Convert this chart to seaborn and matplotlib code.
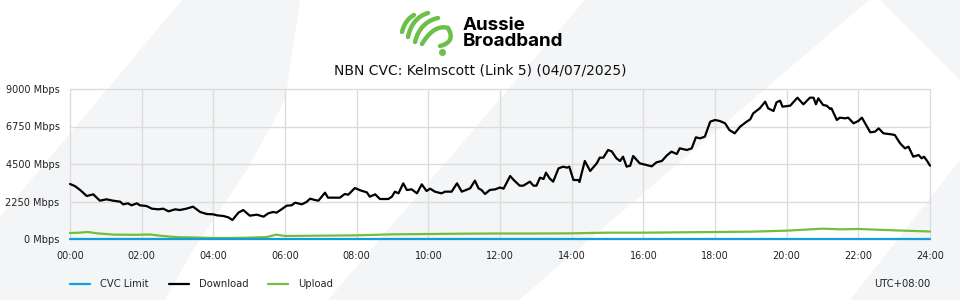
import numpy as np
import pandas as pd
import seaborn as sns
import matplotlib
matplotlib.use("Agg")
import matplotlib.pyplot as plt
from matplotlib.patches import Polygon
from matplotlib.lines import Line2D

# ---------------- data ----------------
title = "NBN CVC: Kelmscott (Link 5) (04/07/2025)"
x_tick_labels = ["00:00", "02:00", "04:00", "06:00", "08:00", "10:00", "12:00",
                 "14:00", "16:00", "18:00", "20:00", "22:00", "24:00"]
y_ticks = [0, 2250, 4500, 6750, 9000]
y_tick_labels = ["0 Mbps", "2250 Mbps", "4500 Mbps", "6750 Mbps", "9000 Mbps"]
series_names = ["CVC Limit", "Download", "Upload"]
series_colors = ["#109fdb", "#000000", "#75bd3a"]
timezone_label = "UTC+08:00"

# minutes since midnight
download_minutes = [0, 8, 17, 28, 39, 50, 61, 72, 84, 89, 97, 103, 112, 117, 128, 137, 148,
                    156, 165, 176, 184, 195, 206, 218, 229, 240, 246, 257, 265, 272, 282,
                    290, 301, 313, 324, 332, 340, 346, 354, 363, 371, 377, 388, 396, 402,
                    410, 416, 427, 432, 452, 460, 466, 477, 486, 497, 502, 511, 519, 533,
                    539, 544, 550, 558, 564, 572, 581, 589, 597, 603, 611, 622, 628, 639,
                    648, 656, 670, 678, 684, 689, 695, 703, 712, 720, 726, 737, 743, 753,
                    759, 770, 776, 781, 787, 793, 797, 803, 809, 818, 826, 832, 836, 843,
                    851, 853, 862, 871, 882, 887, 893, 901, 907, 915, 921, 926, 932, 938,
                    943, 954, 974, 982, 991, 999, 1007, 1016, 1021, 1033, 1041, 1048, 1055,
                    1063, 1072, 1080, 1088, 1097, 1104, 1113, 1122, 1133, 1139, 1144, 1155,
                    1164, 1169, 1178, 1183, 1189, 1193, 1206, 1218, 1228, 1239, 1245, 1249,
                    1253, 1261, 1267, 1273, 1275, 1284, 1289, 1298, 1303, 1312, 1320, 1326,
                    1340, 1348, 1354, 1362, 1375, 1381, 1390, 1398, 1404, 1412, 1421, 1426,
                    1430, 1436, 1440]
download_mbps = [3300, 3180, 2940, 2580, 2680, 2300, 2380, 2300, 2240, 2080, 2140, 2020, 2140,
                 2020, 1980, 1820, 1780, 1820, 1660, 1780, 1740, 1820, 1940, 1620, 1500, 1480,
                 1420, 1380, 1300, 1140, 1580, 1740, 1400, 1460, 1340, 1540, 1620, 1580, 1780,
                 2000, 2020, 2180, 2080, 2220, 2420, 2340, 2300, 2780, 2480, 2480, 2700, 2660,
                 3060, 2920, 2800, 2540, 2680, 2400, 2400, 2540, 2840, 2740, 3340, 2940, 2980,
                 2740, 3280, 2880, 3020, 2840, 2740, 2840, 2840, 3340, 2840, 3040, 3500, 3040,
                 2940, 2700, 2940, 2980, 3090, 3020, 3780, 3540, 3200, 3200, 3440, 3200, 3200,
                 3680, 3600, 3980, 3640, 3440, 4240, 4340, 4280, 4340, 3540, 3540, 3420, 4680,
                 4080, 4540, 4880, 4880, 5340, 5260, 4840, 4680, 4940, 4340, 4400, 4980, 4540,
                 4360, 4600, 4680, 5000, 5240, 5100, 5440, 5340, 5440, 6100, 6040, 6140, 7040,
                 7140, 7080, 6940, 6540, 6340, 6740, 7040, 7180, 7540, 7840, 8240, 7840, 7680,
                 8200, 8300, 7940, 8000, 8480, 8080, 8480, 8480, 8080, 8440, 8040, 8000, 7800,
                 7840, 7140, 7280, 7240, 7280, 6940, 7080, 7280, 6400, 6440, 6640, 6340, 6280,
                 6240, 5740, 5440, 5540, 4940, 5040, 4840, 4940, 4640, 4400]

upload_minutes = [0, 15, 30, 45, 60, 75, 90, 105, 120, 135, 150, 165, 180, 210, 240, 270,
                  300, 330, 345, 360, 420, 480, 540, 600, 660, 720, 780, 840, 900, 960,
                  1020, 1080, 1140, 1200, 1230, 1260, 1290, 1320, 1380, 1440]
upload_mbps = [360, 380, 420, 340, 300, 260, 260, 250, 260, 270, 200, 150, 110, 90, 60, 60,
               80, 120, 260, 180, 200, 220, 280, 300, 320, 330, 330, 340, 380, 380,
               400, 420, 440, 500, 560, 620, 580, 600, 520, 450]

cvc_minutes = [0, 1440]
cvc_mbps = [0, 0]

# ---------------- figure ----------------
sns.set_theme(style="white")
plt.rcParams["font.family"] = ["DejaVu Sans"]

W, H = 960, 300
fig = plt.figure(figsize=(9.6, 3.0), dpi=100)
fig.patch.set_facecolor("white")

def px(x, y):
    return (x / W, 1 - y / H)

# decorative background shapes
bg = "#f4f5f7"
shapes = [
    [(0, 217), (182, 0), (300, 0), (285, 100), (247, 170), (193, 250), (165, 300), (0, 300)],
    [(328, 300), (585, 0), (869, 0), (519, 300)],
    [(960, 160), (960, 300), (850, 300)],
    [(880, 0), (960, 0), (960, 80)],
]
for s in shapes:
    fig.patches.append(Polygon([px(*p) for p in s], closed=True, transform=fig.transFigure,
                               facecolor=bg, edgecolor="none", zorder=-10))

ax = fig.add_axes([70 / W, 1 - 239 / H, 860 / W, 150 / H])
ax.set_facecolor("none")

frames = []
for name, mins, vals in [(series_names[0], cvc_minutes, cvc_mbps),
                         (series_names[1], download_minutes, download_mbps),
                         (series_names[2], upload_minutes, upload_mbps)]:
    frames.append(pd.DataFrame({"hour": np.array(mins) / 60.0, "mbps": vals, "series": name}))
df = pd.concat(frames, ignore_index=True)

for name, color in zip(series_names, series_colors):
    sub = df[df["series"] == name]
    sns.lineplot(data=sub, x="hour", y="mbps", ax=ax, color=color, linewidth=1.6,
                 label=name, estimator=None, sort=False, zorder=3 if name != "CVC Limit" else 4)
for ln in ax.get_lines():
    ln.set_clip_on(False)

ax.set_xlim(0, 24)
ax.set_ylim(0, 9000)
ax.set_xticks(np.arange(0, 25, 2))
ax.set_xticklabels(x_tick_labels)
ax.set_yticks(y_ticks)
ax.set_yticklabels(y_tick_labels)
ax.set_xlabel("")
ax.set_ylabel("")
for sp in ax.spines.values():
    sp.set_visible(False)
ax.grid(True, color="#dcdcdc", linewidth=1.0, zorder=0)
for gl in ax.get_xgridlines() + ax.get_ygridlines():
    gl.set_clip_on(False)
ax.tick_params(axis="x", length=6, width=1, color="#dcdcdc", pad=2.5, labelsize=7, labelcolor="#222222")
ax.tick_params(axis="y", length=0, pad=7.5, labelsize=7, labelcolor="#222222")

handles = [Line2D([0], [0], color=c, linewidth=1.6) for c in series_colors]
ax.legend(handles, series_names, ncol=3, frameon=False, fontsize=7.2,
          loc="center left", bbox_to_anchor=(70 / W, 1 - 284 / H),
          bbox_transform=fig.transFigure, handlelength=2.0, handletextpad=1.0,
          columnspacing=2.0, borderaxespad=0, borderpad=0)

fig.text(930 / W, 1 - 284 / H, timezone_label, ha="right", va="center", fontsize=7.2, color="#222222")
fig.text(480 / W, 1 - 70 / H, title, ha="center", va="center", fontsize=10, color="#111111")

# logo
fig.text(463 / W, 1 - 25 / H, "Aussie", ha="left", va="center", fontsize=13.5,
         fontweight="bold", family=["Inter", "DejaVu Sans"], color="#000000")
fig.text(463 / W, 1 - 42 / H, "Broadband", ha="left", va="center", fontsize=13.5,
         fontweight="bold", family=["Inter", "DejaVu Sans"], color="#000000")
lax = fig.add_axes([398 / W, 1 - 56 / H, 60 / W, 48 / H])
lax.set_xlim(0, 60)
lax.set_ylim(48, 0)
lax.axis("off")
green = "#6cc04a"
t = np.linspace(0, 1, 30)
def bez(p0, p1, p2):
    p0, p1, p2 = map(np.array, (p0, p1, p2))
    pts = ((1 - t) ** 2)[:, None] * p0 + (2 * (1 - t) * t)[:, None] * p1 + (t ** 2)[:, None] * p2
    return pts[:, 0], pts[:, 1]
strokes = [((4, 24), (7, 12), (16, 7)),
           ((10, 29), (14, 10), (30, 5)),
           ((17, 34), (22, 14), (40, 10)),
           ((24, 36), (36, 16), (50, 20)),
           ((50, 20), (58, 34), (42, 38))]
for s in strokes:
    xs, ys = bez(*s)
    lax.plot(xs, ys, color=green, linewidth=3.2, solid_capstyle="round")
lax.plot([44], [44], "o", color=green, markersize=4)

fig.savefig("out.png", dpi=100, facecolor="white")
